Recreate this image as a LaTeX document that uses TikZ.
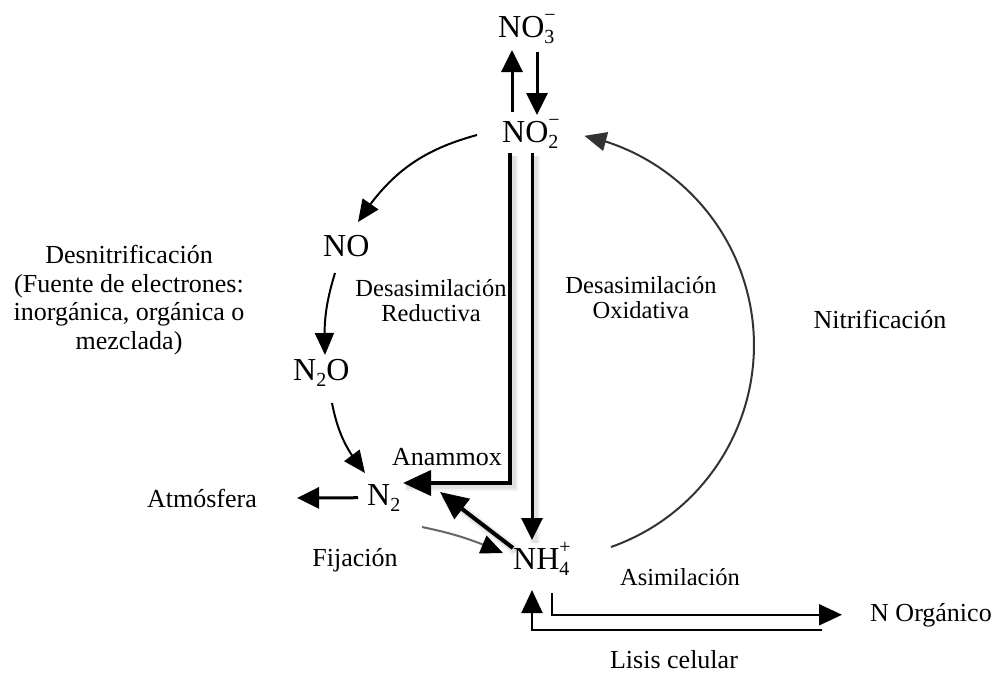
\documentclass[tikz,border=0pt]{standalone}
\usepackage{fontspec}
\setmainfont{Liberation Serif}
\usetikzlibrary{arrows.meta,bending}
\newcommand\fsz{\fontsize{32}{36}\selectfont}
\newcommand\ssz{\fontsize{20}{22}\selectfont}
\newcommand\labfont{\fontsize{26}{28.5}\selectfont}
\newcommand\labfontb{\fontsize{24.5}{25}\selectfont}
\newcommand\chsubsup[2]{\makebox[0pt][l]{\raisebox{-0.2em}{\ssz #1}}\raisebox{0.5em}{\ssz #2}}
\newcommand\chsub[1]{\raisebox{-0.2em}{\ssz #1}}
\begin{document}
\begin{tikzpicture}[x=1pt,y=1pt,
  lab/.style={font=\labfont, inner sep=0pt},
  labb/.style={font=\labfontb, inner sep=0pt},
  chem/.style={font=\fsz, inner sep=0pt, anchor=base west},
  thinarr/.style={line width=2pt, -{Triangle[length=22pt,width=19pt]}},
  brk/.style={line width=2pt, -{Triangle[length=23pt,width=21pt]}},
  midarr/.style={line width=3pt, -{Triangle[length=22pt,width=21pt]}},
  heavy/.style={line width=4pt, -{Triangle[length=28pt,width=25pt]}},
  soft/.style={preaction={draw=black, arrows=-, line width=10pt, opacity=0.05, transform canvas={shift={(3pt,-3pt)}}},
               preaction={draw=black, arrows=-, line width=6pt, opacity=0.07, transform canvas={shift={(3pt,-3pt)}}}}
]
\useasboundingbox (0,0) rectangle (997,-673);

% chemical species
\node[chem] (no3) at (498,-37) {NO\chsubsup{3}{−}};
\node[chem] (no2) at (502,-142) {NO\chsubsup{2}{−}};
\node[chem] (no) at (323,-256) {NO};
\node[chem] (n2o) at (293,-380) {N\chsub{2}O};
\node[chem] (n2) at (367,-505) {N\chsub{2}};
\node[chem] (nh4) at (513,-569) {NH\chsubsup{4}{+}};

% labels
\node[lab, align=center] (desn) at (129,-300) {Desnitrificación\\(Fuente de electrones:\\inorgánica, orgánica o\\mezclada)};
\node[labb, align=center] (dred) at (431,-301) {Desasimilación\\Reductiva};
\node[labb, align=center] (dox) at (641,-298) {Desasimilación\\Oxidativa};
\node[lab, anchor=base] (nit) at (880,-328) {Nitrificación};
\node[lab, anchor=base] (anx) at (447,-465) {Anammox};
\node[lab, anchor=base] (atm) at (202,-507) {Atmósfera};
\node[lab, anchor=base] (fij) at (355,-566) {Fijación};
\node[labb, anchor=base] (asim) at (680,-585) {Asimilación};
\node[lab, anchor=base west] (norg) at (870,-621) {N Orgánico};
\node[lab, anchor=base] (lis) at (674,-668) {Lisis celular};

% NO2 <-> NO3
\draw[midarr] ([shift={(10,30)}]no2.base west) -- ([shift={(14,-13)}]no3.base west);
\draw[midarr] ([shift={(39,-15)}]no3.base west) -- ([shift={(35,27)}]no2.base west);

% denitrification chain
\draw[thinarr] ([shift={(-25,7)}]no2.base west) to[bend right=21] ([shift={(35,34)}]no.base west);
\draw[thinarr] ([shift={(12,-17)}]no.base west) to[bend right=10] ([shift={(32,25)}]n2o.base west);
\draw[thinarr] ([shift={(39,-23)}]n2o.base west) to[bend right=14] ([shift={(-2,32)}]n2.base west);

% fixation
\draw[line width=2pt, draw=black!60, -{Triangle[length=22pt,width=19pt,color=black]}]
  ([shift={(55,-22)}]n2.base west) to[bend left=6] ([shift={(-10,16)}]nh4.base west);

% anammox and dissimilation
\draw[heavy, soft] ([shift={(8,-11)}]no2.base west) |- ([shift={(36,22)}]n2.base west);
\draw[midarr, soft] ([shift={(30,-11)}]no2.base west) -- ([shift={(19,29)}]nh4.base west);
\draw[heavy, soft] ([shift={(0,21)}]nh4.base west) -- ([shift={(73,13)}]n2.base west);

% to atmosphere
\draw[midarr] ([xshift=-9]n2.west) -- ([xshift=40]atm.east);

% nitrification arc
\coordinate (nitA) at ([shift={(98,22)}]nh4.base west);
\draw[thinarr, draw=black!80] (nitA) arc[start angle=-70.6, end angle=78, radius=214];

% assimilation / lysis
\draw[brk] ([shift={(39,-24)}]nh4.base west) |- ([xshift=-28]norg.west);
\coordinate (lisA) at (822,-630);
\draw[brk] (lisA) -| ([shift={(19,-21)}]nh4.base west);
\end{tikzpicture}
\end{document}
